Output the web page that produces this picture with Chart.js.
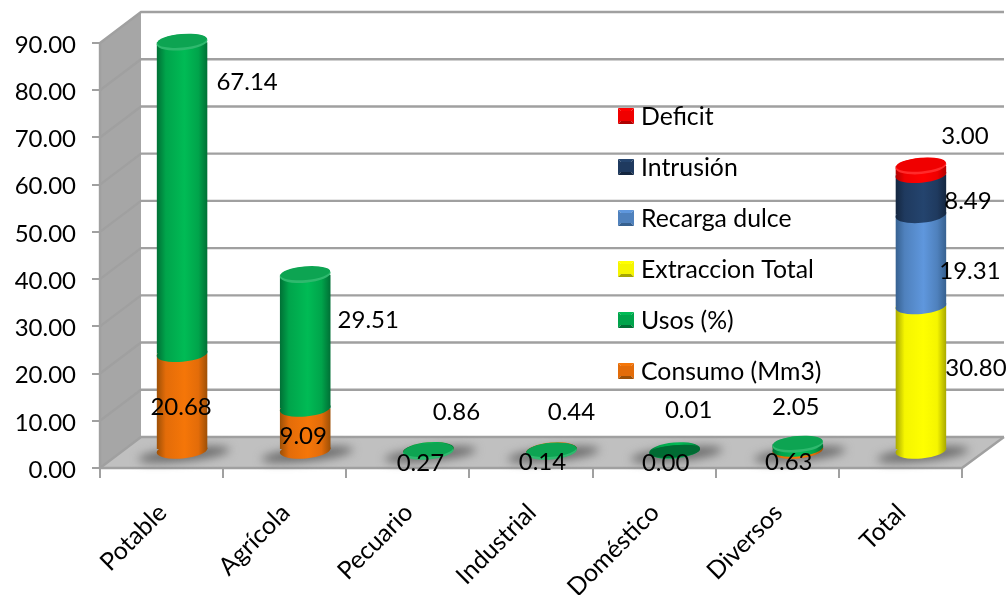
<!DOCTYPE html>
<html>
<head>
<meta charset="utf-8">
<title>Usos del agua</title>
<script src="https://cdn.jsdelivr.net/npm/chart.js@4"></script>
<style>
    html, body { margin: 0; padding: 0; background: #fff; }
    canvas { display: block; }
</style>
</head>
<body>
<canvas id="myChart" width="1008" height="595"></canvas>
<script>
const categories = ['Potable', 'Agrícola', 'Pecuario', 'Industrial', 'Doméstico', 'Diversos', 'Total'];

const consumo    = [20.68, 9.09, 0.27, 0.14, 0.00, 0.63, null];
const usos       = [67.14, 29.51, 0.86, 0.44, 0.01, 2.05, null];
const extraccion = [null, null, null, null, null, null, 30.80];
const recarga    = [null, null, null, null, null, null, 19.31];
const intrusion  = [null, null, null, null, null, null, 8.49];
const deficit    = [null, null, null, null, null, null, 3.00];

const yTickStep = 10;
const yMax = 90;

// labels were dragged around by hand in the original, so offsets from the middle of each segment
const consumoOffsets = [[-1, 4], [-2, 5.5], [-8, 12], [-9, 11], [-9, 11], [-9, 11.5], null];
const usosOffsets = [[65, -114], [63, -19.5], [28, -37], [20, -39], [14, -42], [-2, -37], null];
const extraccionOffsets = [null, null, null, null, null, null, [55, -11]];
const recargaOffsets = [null, null, null, null, null, null, [49, 10]];
const intrusionOffsets = [null, null, null, null, null, null, [47, 5.6]];
const deficitOffsets = [null, null, null, null, null, null, [44, -32]];

const FAMILY = 'Lato, "Noto Sans", sans-serif';
const WALL_DX = 41, WALL_DY = -31;   // depth of the fake 3d box
const BAR_DX = 20.5, BAR_DY = -16.5; // bars stand halfway into the box
const GRID = '#a0a0a0';

// edge, middle, peak
const shades = {
    orange: ['#9c4f06', '#e36c09', '#f57608'],
    green:  ['#006f35', '#00a44b', '#00bb55'],
    yellow: ['#a6a600', '#f5f500', '#ffff00'],
    blue:   ['#36608f', '#4f81bd', '#5f97dd'],
    navy:   ['#14263f', '#1f3a5f', '#24446e'],
    red:    ['#b00000', '#f00000', '#ff0000']
};
const capColors = {
    green: ['#0da452', '#2fb96e'],
    red:   ['#f00000', '#ff2a2a']
};

function cylinderGradient(c, x, w, name) {
    const s = shades[name];
    const g = c.createLinearGradient(x - w / 2, 0, x + w / 2, 0);
    g.addColorStop(0, s[0]);
    g.addColorStop(0.18, s[1]);
    g.addColorStop(0.55, s[2]);
    g.addColorStop(0.82, s[1]);
    g.addColorStop(1, s[0]);
    return g;
}

function barFill(name) {
    return function (context) {
        const chart = context.chart;
        if (!chart.chartArea || context.dataIndex === undefined) return shades[name][1];
        const x = chart.scales.x.getPixelForValue(context.dataIndex);
        const w = chart.scales.x.width / categories.length * 0.414;
        return cylinderGradient(chart.ctx, x, w, name);
    };
}

const seriesNames = ['orange', 'green', 'yellow', 'blue', 'navy', 'red'];
const seriesOffsets = [consumoOffsets, usosOffsets, extraccionOffsets, recargaOffsets, intrusionOffsets, deficitOffsets];

function tiltedEllipse(c, x, y, rx, ry) {
    c.beginPath();
    c.ellipse(x, y, rx, ry, -5 * Math.PI / 180, 0, Math.PI * 2);
}

// top y of each stack, read from the bar elements
function stackTops(chart) {
    const tops = categories.map(function () { return null; });
    chart.data.datasets.forEach(function (ds, d) {
        chart.getDatasetMeta(d).data.forEach(function (el, i) {
            if (ds.data[i] > 0 && (tops[i] === null || el.y < tops[i].y)) {
                tops[i] = { y: el.y, x: el.x, width: el.width, series: d };
            }
        });
    });
    return tops;
}

const box3d = {
    id: 'box3d',
    beforeDraw(chart) {
        // Lato sits a bit high compared to the original, nudge the axis labels
        chart.scales.y.getLabelItems().forEach(function (item) {
            item.options.translation[1] += 2;
        });
        chart.scales.x.getLabelItems().forEach(function (item) {
            item.options.translation[0] += 1;
        });
    },
    beforeDatasetsDraw(chart) {
        const c = chart.ctx, y = chart.scales.y, x = chart.scales.x;
        const l = x.left, r = x.right, b = y.bottom, t = y.top;
        c.save();
        // left wall
        c.fillStyle = '#a6a6a6';
        c.beginPath();
        c.moveTo(l, t); c.lineTo(l + WALL_DX, t + WALL_DY); c.lineTo(l + WALL_DX, b + WALL_DY); c.lineTo(l, b);
        c.closePath(); c.fill();
        // floor
        c.fillStyle = '#c0c0c0';
        c.beginPath();
        c.moveTo(l, b); c.lineTo(l + WALL_DX, b + WALL_DY); c.lineTo(r + WALL_DX + 1, b + WALL_DY); c.lineTo(r, b);
        c.closePath(); c.fill();
        // gridlines go round the wall
        c.strokeStyle = GRID;
        c.lineWidth = 2.4;
        y.ticks.forEach(function (tick) {
            const py = y.getPixelForValue(tick.value);
            c.beginPath();
            c.moveTo(l, py);
            c.lineTo(l + WALL_DX, py + WALL_DY);
            c.lineTo(r + WALL_DX + 1, py + WALL_DY);
            c.stroke();
        });
        // front edges
        c.beginPath();
        c.moveTo(l, t); c.lineTo(l, b); c.lineTo(r, b); c.lineTo(r + WALL_DX + 1, b + WALL_DY);
        c.stroke();
        // shadows on the floor
        c.filter = 'blur(5px)';
        c.fillStyle = '#6a6a6a';
        categories.forEach(function (name, i) {
            c.beginPath();
            c.ellipse(x.getPixelForValue(i) + BAR_DX + 2, b + BAR_DY + 3, 46, 6.5, -6 * Math.PI / 180, 0, Math.PI * 2);
            c.fill();
        });
        c.filter = 'none';
        c.restore();

        // the bars get pushed into the box, tops are cut a bit so the cap sits lower like the original
        const tops = stackTops(chart);
        c.save();
        c.translate(BAR_DX, BAR_DY);
        c.beginPath();
        tops.forEach(function (top) {
            if (!top) return;
            const h = b - top.y;
            const drop = Math.min(5.5, h);
            c.rect(top.x - top.width / 2, top.y + drop, top.width, Math.max(0, h - drop - 2.5));
        });
        c.clip();
    },
    afterDatasetsDraw(chart) {
        const c = chart.ctx, b = chart.scales.y.bottom;
        c.restore();
        const tops = stackTops(chart);
        c.save();
        c.translate(BAR_DX, BAR_DY);
        // curved bottom of every segment, bottom one first
        chart.data.datasets.forEach(function (ds, d) {
            chart.getDatasetMeta(d).data.forEach(function (el, i) {
                if (!(ds.data[i] > 0)) return;
                c.fillStyle = cylinderGradient(c, el.x, el.width, seriesNames[d]);
                tiltedEllipse(c, el.x, el.base, el.width / 2, 8);
                c.fill();
            });
        });
        // caps
        tops.forEach(function (top) {
            if (!top) return;
            const h = b - top.y;
            const cy = top.y + Math.min(5.5, h);
            const name = seriesNames[top.series];
            const cap = capColors[name] || [shades[name][1], shades[name][2]];
            const flat = h < 0.2;   // the 0.01 bar shows a dark thin disc
            const ry = flat ? 6 : 8;
            tiltedEllipse(c, top.x, cy, top.width / 2, ry);
            c.fillStyle = flat ? '#006b33' : cap[1];
            c.fill();
            tiltedEllipse(c, top.x, cy - 1.5, top.width / 2 - 0.5, ry - 1.2);
            c.fillStyle = flat ? '#006b33' : cap[0];
            c.fill();
        });
        c.restore();
    },
    afterDraw(chart) {
        const c = chart.ctx;
        c.save();
        c.font = '24px ' + FAMILY;
        c.fillStyle = '#000';
        c.textAlign = 'center';
        c.textBaseline = 'middle';
        // data labels
        chart.data.datasets.forEach(function (ds, d) {
            chart.getDatasetMeta(d).data.forEach(function (el, i) {
                if (ds.data[i] === null) return;
                const off = seriesOffsets[d][i];
                c.fillText(ds.data[i].toFixed(2), el.x + BAR_DX + off[0], (el.y + el.base) / 2 + BAR_DY + off[1] + 1);
            });
        });
        // legend, top to bottom is the reverse of the stack
        const n = chart.data.datasets.length;
        c.textAlign = 'left';
        c.font = '24.8px ' + FAMILY;
        chart.data.datasets.forEach(function (ds, d) {
            const ly = 116 + (n - 1 - d) * 51;
            const s = shades[seriesNames[d]];
            swatch(c, 618, ly - 8, 16, s);
            c.fillStyle = '#000';
            c.fillText(ds.label, 641, ly + 1.5);
        });
        c.restore();
    }
};

// little bevelled square from the legend
function swatch(c, x, y, size, s) {
    const e = 3;
    function poly(color, pts) {
        c.fillStyle = color;
        c.beginPath();
        pts.forEach(function (p, i) { if (i) c.lineTo(p[0], p[1]); else c.moveTo(p[0], p[1]); });
        c.closePath();
        c.fill();
    }
    const x2 = x + size, y2 = y + size;
    poly(s[2], [[x, y], [x2, y], [x2 - e, y + e], [x + e, y + e]]);
    poly(s[1], [[x, y], [x + e, y + e], [x + e, y2 - e], [x, y2]]);
    poly(s[1], [[x2, y], [x2 - e, y + e], [x2 - e, y2 - e], [x2, y2]]);
    poly(s[0], [[x, y2], [x + e, y2 - e], [x2 - e, y2 - e], [x2, y2]]);
    c.fillStyle = s[1];
    c.fillRect(x + e, y + e, size - 2 * e, size - 2 * e);
}

const ctx = document.getElementById('myChart').getContext('2d');
const myChart = new Chart(ctx, {
    type: 'bar',
    data: {
        labels: categories,
        datasets: [
            { label: 'Consumo (Mm3)', data: consumo, backgroundColor: barFill('orange') },
            { label: 'Usos (%)', data: usos, backgroundColor: barFill('green') },
            { label: 'Extraccion Total', data: extraccion, backgroundColor: barFill('yellow') },
            { label: 'Recarga dulce', data: recarga, backgroundColor: barFill('blue') },
            { label: 'Intrusión', data: intrusion, backgroundColor: barFill('navy') },
            { label: 'Deficit', data: deficit, backgroundColor: barFill('red') }
        ]
    },
    plugins: [box3d],
    options: {
        responsive: false,
        animation: false,
        categoryPercentage: 0.414,
        barPercentage: 1,
        layout: { padding: { top: 43, right: 46 } },
        plugins: { legend: { display: false }, tooltip: { enabled: false } },
        scales: {
            x: {
                stacked: true,
                afterFit: function (scale) { scale.height = 127; },
                grid: { drawOnChartArea: false, color: GRID, lineWidth: 2, tickLength: 10 },
                border: { display: false },
                ticks: {
                    color: '#000',
                    font: { family: FAMILY, size: 24.8 },
                    minRotation: 45,
                    maxRotation: 45,
                    autoSkip: false,
                    padding: 20
                }
            },
            y: {
                stacked: true,
                min: 0,
                max: yMax,
                afterFit: function (scale) { scale.width = 100; },
                grid: { drawOnChartArea: false, color: GRID, lineWidth: 2, tickLength: 8 },
                border: { display: false },
                ticks: {
                    stepSize: yTickStep,
                    color: '#000',
                    font: { family: FAMILY, size: 24 },
                    padding: 16,
                    callback: function (v) { return v.toFixed(2); }
                }
            }
        }
    }
});
</script>
</body>
</html>
